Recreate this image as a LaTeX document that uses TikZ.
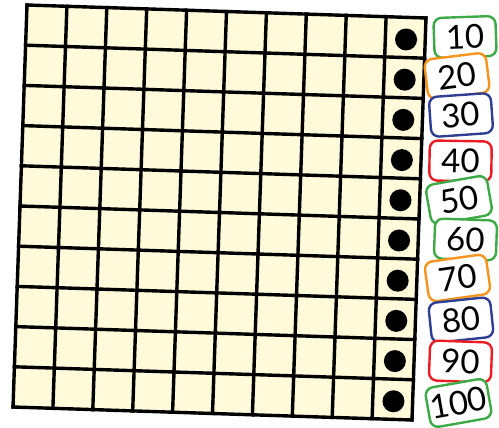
\documentclass[tikz,border=0pt]{standalone}
\usepackage{fontspec}
\setmainfont{Lato}
\definecolor{cream}{HTML}{FFFAD9}
\definecolor{lgreen}{HTML}{3DAA47}
\definecolor{lorange}{HTML}{F7941D}
\definecolor{lblue}{HTML}{2E3F93}
\definecolor{lred}{HTML}{ED1C24}
\tikzset{
  tag/.style={draw=#1, fill=white, line width=2.4pt, rounded corners=8pt,
    minimum width=62pt, minimum height=40pt, inner sep=0pt,
    font=\fontsize{33}{33}\selectfont},
  gridline/.style={line width=3.4pt, line cap=rect},
}
\begin{document}
\begin{tikzpicture}[x=1pt,y=-1pt]
\useasboundingbox (0,0) rectangle (499,428);
\begin{scope}[shift={(27,5)}, x={(39.9pt,-1.3pt)}, y={(-1.4pt,-40.2pt)}]
  \fill[cream] (0,0) -- (10,0) -- (10,10) -- (0,10) -- cycle;
  \foreach \i in {0,...,10} {
    \draw[gridline] (\i,0) -- (\i,10);
    \draw[gridline] (0,\i) -- (10,\i);
  }
  \foreach \j in {0,...,9} {
    \fill (9.52,\j+0.55) circle (11pt);
  }
\end{scope}
\node[tag=lgreen, rotate=2] (t10) at (465,37) {10};
\node[tag=lorange, rotate=7] (t20) at (457,76) {20};
\node[tag=lblue, rotate=4] (t30) at (461,115) {30};
\node[tag=lred, rotate=-1] (t40) at (460.5,161) {40};
\node[tag=lgreen, rotate=10] (t50) at (459,200) {50};
\node[tag=lgreen, rotate=-2] (t60) at (465.5,239.5) {60};
\node[tag=lorange, rotate=8] (t70) at (457.5,278) {70};
\node[tag=lblue, rotate=6] (t80) at (461,320) {80};
\node[tag=lred, rotate=-2] (t90) at (460.5,361.5) {90};
\node[tag=lgreen, rotate=10] (t100) at (458.5,403) {100};
\end{tikzpicture}
\end{document}
